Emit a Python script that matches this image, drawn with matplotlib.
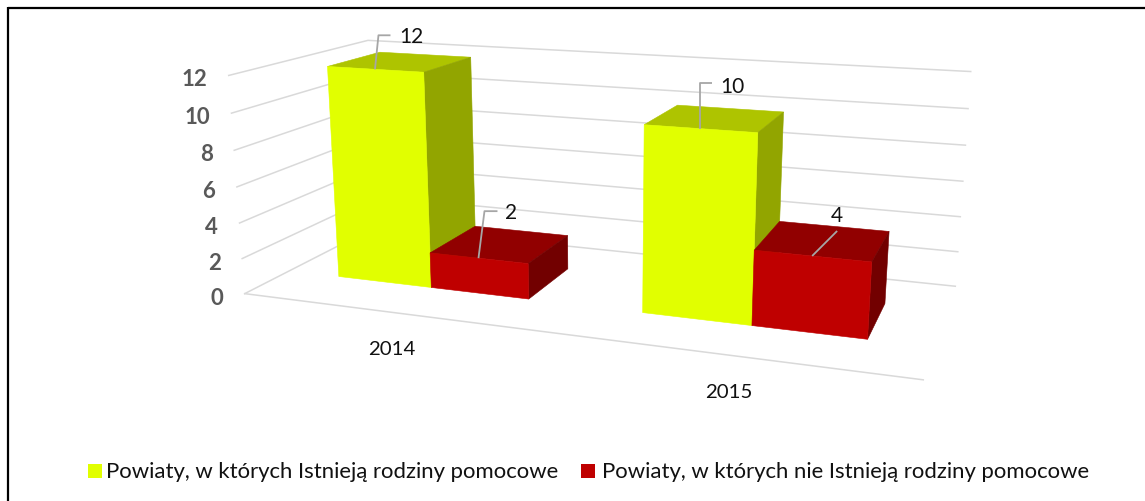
import numpy as np
import matplotlib
matplotlib.use("Agg")
import matplotlib.pyplot as plt
from matplotlib.patches import Polygon, Rectangle

years = ["2014", "2015"]
series_names = ["Powiaty, w których Istnieją rodziny pomocowe",
                "Powiaty, w których nie Istnieją rodziny pomocowe"]
with_families = [12, 10]
without_families = [2, 4]
value_ticks = [0, 2, 4, 6, 8, 10, 12]

# front, top, side
yellow = ["#E1FF00", "#AEC400", "#92A500"]
red = ["#BF0000", "#910000", "#720000"]
grid_col = "#D9D9D9"
leader_col = "#A6A6A6"

plt.rcParams["font.family"] = ["Lato", "DejaVu Sans"]

# camera: box corners (x, depth, value) -> pixels of the picture
box_world = np.array([[0, 0, 0], [0, 0, 12], [1, 0, 0], [1, 1, 0],
                      [1, 1, 12], [0, 1, 12], [0, 1, 0]], float)
box_pix = np.array([[244.7, 294], [228.7, 76.7], [923.3, 381.3], [955.3, 286.7],
                    [970.7, 72.7], [368, 41], [376.5, 228]])
rows = []
for (X, Y, Z), (u, v) in zip(box_world, box_pix):
    rows.append([X, Y, Z, 1, 0, 0, 0, 0, -u*X, -u*Y, -u*Z, -u])
    rows.append([0, 0, 0, 0, X, Y, Z, 1, -v*X, -v*Y, -v*Z, -v])
cam = np.linalg.svd(np.array(rows))[2][-1].reshape(3, 4)


def proj(x, d, z):
    h = cam @ np.array([x, d, z, 1.0])
    return h[:2] / h[2]


fig = plt.figure(figsize=(11.45, 5.02), dpi=100)
ax = fig.add_axes([0, 0, 1, 1])
ax.set_xlim(0, 1145)
ax.set_ylim(502, 0)
ax.axis("off")


def face(pts, col, zorder=3):
    ax.add_patch(Polygon([proj(*p) for p in pts], closed=True, fc=col, ec=col,
                         lw=0.4, zorder=zorder))


# grid on the side and back walls, floor front edge
for v in value_ticks:
    pts = np.array([proj(0, 0, v), proj(0, 1, v), proj(1, 1, v)])
    ax.plot(pts[:, 0], pts[:, 1], color=grid_col, lw=1.1, zorder=1)
    ax.text(pts[0, 0] - 21.5, pts[0, 1] + 3.5, str(v), ha="right", va="center",
            fontsize=16, fontweight="bold", color="#595959")
edge = np.array([proj(0, 0, 0), proj(1, 0, 0)])
ax.plot(edge[:, 0], edge[:, 1], color=grid_col, lw=1.1, zorder=1)

bar_w = 0.161
d0, d1 = 0.305, 0.703

for i in range(len(years)):
    centre = (i + 0.5) / len(years)
    for s, (vals, cols) in enumerate([(with_families, yellow), (without_families, red)]):
        x0 = centre + (s - 1) * bar_w
        x1 = x0 + bar_w
        z = vals[i]
        face([(x0, d0, z), (x1, d0, z), (x1, d1, z), (x0, d1, z)], cols[1])
        face([(x1, d0, 0), (x1, d1, 0), (x1, d1, z), (x1, d0, z)], cols[2])
        face([(x0, d0, 0), (x1, d0, 0), (x1, d0, z), (x0, d0, z)], cols[0])

# data labels: bend points relative to the bar's front top edge
leaders = {
    (0, 0): ([(3.5, -34), (15.5, -34)], (36, -33)),
    (0, 1): ([(6, -47), (19, -47)], (33, -46)),
    (1, 0): ([(0, -46), (11.5, -46)], (32, -43)),
    (1, 1): ([(25, -25)], (24.5, -41)),
}
for i in range(len(years)):
    centre = (i + 0.5) / len(years)
    for s, vals in enumerate([with_families, without_families]):
        x_mid = centre + (s - 0.5) * bar_w
        start = proj(x_mid, d0, vals[i])
        bends, lab = leaders[(i, s)]
        xs = [start[0]] + [start[0] + b[0] for b in bends]
        ys = [start[1]] + [start[1] + b[1] for b in bends]
        ax.plot(xs, ys, color=leader_col, lw=1.3, zorder=5, solid_capstyle="butt")
        ax.text(start[0] + lab[0], start[1] + lab[1], str(vals[i]), ha="center",
                va="center", fontsize=15, color="#111111", zorder=6)

# category labels
cat_pos = [(392, 349.5), (729, 392.5)]
for name, (cx, cy) in zip(years, cat_pos):
    ax.text(cx, cy, name, ha="center", va="center", fontsize=14.7, color="#111111")

# legend
for name, col, sx, tx in zip(series_names, [yellow[0], red[0]], [88, 581], [106, 602]):
    ax.add_patch(Rectangle((sx, 464.5), 14, 14, fc=col, ec="none"))
    ax.text(tx, 472, name, ha="left", va="center", fontsize=15.9, color="#111111")

# frame, only top and left fall inside the picture
ax.plot([7.5, 1145], [9, 9], color="black", lw=1.6, zorder=7, solid_capstyle="butt")
ax.plot([7.5, 7.5], [8, 502], color="black", lw=1.6, zorder=7, solid_capstyle="butt")

fig.savefig("out.png", dpi=100)
